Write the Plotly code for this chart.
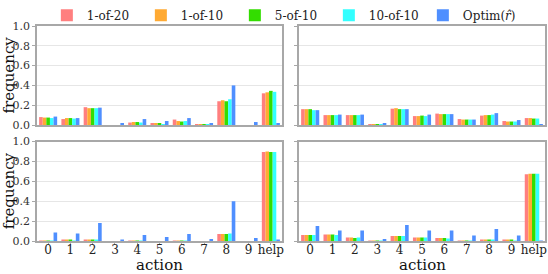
import plotly.graph_objects as go
from plotly.subplots import make_subplots

categories = ["0", "1", "2", "3", "4", "5", "6", "7", "8", "9", "help"]
series_names = ["1-of-20", "1-of-10", "5-of-10", "10-of-10", "Optim(<i>r̂</i>)"]
colors = ["#FF7F7F", "#FFAA33", "#33DD00", "#33FFFF", "#4F8FFF"]

# top-left panel
tl_1of20 = [0.08, 0.06, 0.18, 0.0, 0.025, 0.015, 0.055, 0.005, 0.24, 0.0, 0.32]
tl_1of10 = [0.075, 0.07, 0.17, 0.0, 0.03, 0.015, 0.04, 0.005, 0.25, 0.0, 0.33]
tl_5of10 = [0.075, 0.07, 0.17, 0.0, 0.03, 0.015, 0.035, 0.005, 0.24, 0.0, 0.345]
tl_10of10 = [0.07, 0.065, 0.17, 0.0, 0.025, 0.01, 0.04, 0.005, 0.26, 0.0, 0.335]
tl_optim = [0.085, 0.07, 0.175, 0.015, 0.06, 0.04, 0.07, 0.02, 0.40, 0.03, 0.015]

# top-right panel
tr_1of20 = [0.16, 0.10, 0.10, 0.005, 0.165, 0.09, 0.115, 0.06, 0.095, 0.04, 0.07]
tr_1of10 = [0.16, 0.10, 0.10, 0.005, 0.17, 0.09, 0.11, 0.055, 0.10, 0.035, 0.07]
tr_5of10 = [0.16, 0.10, 0.10, 0.01, 0.16, 0.095, 0.11, 0.055, 0.10, 0.035, 0.065]
tr_10of10 = [0.15, 0.10, 0.10, 0.005, 0.16, 0.09, 0.11, 0.055, 0.105, 0.035, 0.065]
tr_optim = [0.15, 0.105, 0.105, 0.02, 0.16, 0.105, 0.11, 0.055, 0.12, 0.05, 0.005]

# bottom-left panel
bl_1of20 = [0.005, 0.01, 0.015, 0.0, 0.005, 0.0, 0.005, 0.0, 0.07, 0.0, 0.895]
bl_1of10 = [0.005, 0.01, 0.015, 0.0, 0.005, 0.0, 0.005, 0.0, 0.07, 0.0, 0.90]
bl_5of10 = [0.005, 0.01, 0.015, 0.0, 0.005, 0.0, 0.005, 0.0, 0.07, 0.0, 0.895]
bl_10of10 = [0.005, 0.005, 0.015, 0.0, 0.005, 0.0, 0.005, 0.0, 0.075, 0.0, 0.895]
bl_optim = [0.085, 0.075, 0.18, 0.015, 0.06, 0.04, 0.07, 0.02, 0.40, 0.03, 0.015]

# bottom-right panel
br_1of20 = [0.06, 0.065, 0.035, 0.005, 0.05, 0.035, 0.03, 0.005, 0.015, 0.01, 0.67]
br_1of10 = [0.06, 0.065, 0.035, 0.005, 0.05, 0.035, 0.03, 0.005, 0.015, 0.01, 0.675]
br_5of10 = [0.06, 0.065, 0.03, 0.005, 0.05, 0.035, 0.03, 0.005, 0.015, 0.01, 0.675]
br_10of10 = [0.06, 0.06, 0.035, 0.005, 0.05, 0.035, 0.025, 0.005, 0.015, 0.005, 0.675]
br_optim = [0.15, 0.105, 0.105, 0.02, 0.16, 0.105, 0.105, 0.055, 0.12, 0.055, 0.005]

panels = [
    (1, 1, [tl_1of20, tl_1of10, tl_5of10, tl_10of10, tl_optim]),
    (1, 2, [tr_1of20, tr_1of10, tr_5of10, tr_10of10, tr_optim]),
    (2, 1, [bl_1of20, bl_1of10, bl_5of10, bl_10of10, bl_optim]),
    (2, 2, [br_1of20, br_1of10, br_5of10, br_10of10, br_optim]),
]

FONT = "DejaVu Serif"

fig = make_subplots(rows=2, cols=2)
for r, c, series in panels:
    for i, vals in enumerate(series):
        fig.add_trace(
            go.Bar(
                x=categories, y=vals, name=series_names[i],
                marker=dict(color=colors[i], line=dict(width=0)),
                showlegend=(r == 1 and c == 1),
                legendgroup=series_names[i],
            ),
            row=r, col=c,
        )

W = 508.0
H = 215.0
xdom_l = [0.0, 245 / W]
xdom_r = [262 / W, 1.0]
ydom_b = [0.0, 99.5 / H]
ydom_t = [116 / H, 1.0]

axis_common = dict(
    showline=True, linecolor="#A8A8A8", linewidth=1.5, mirror=True,
)
for r, c in [(1, 1), (1, 2), (2, 1), (2, 2)]:
    fig.update_xaxes(
        domain=xdom_l if c == 1 else xdom_r,
        range=[-0.5, 10.5], type="category",
        showgrid=False,
        ticks="outside" if r == 2 else "", ticklen=2, tickcolor="#A8A8A8",
        ticklabelstandoff=-5,
        showticklabels=(r == 2),
        tickfont=dict(family=FONT, size=12, color="#222"),
        row=r, col=c, **axis_common,
    )
    fig.update_yaxes(
        domain=ydom_t if r == 1 else ydom_b,
        range=[0, 1.0], dtick=0.2, tickformat=".1f",
        showgrid=True, gridcolor="#E6E6E6", gridwidth=1,
        zeroline=False,
        ticks="outside", ticklen=3, tickcolor="#A8A8A8",
        showticklabels=(c == 1),
        tickfont=dict(family=FONT, size=11, color="#333"),
        row=r, col=c, **axis_common,
    )

# axis titles as paper annotations
title_font_x = dict(family=FONT, size=15, color="#111")
title_font_y = dict(family=FONT, size=15, color="#111")
for xc in [(xdom_l[0] + xdom_l[1]) / 2, (xdom_r[0] + xdom_r[1]) / 2]:
    fig.add_annotation(text="action", xref="paper", yref="paper", x=xc, y=-24 / H,
                       xanchor="center", yanchor="middle", showarrow=False, font=title_font_x)
for yc in [(ydom_t[0] + ydom_t[1]) / 2, (ydom_b[0] + ydom_b[1]) / 2]:
    fig.add_annotation(text="frequency", xref="paper", yref="paper", x=-28 / W, y=yc,
                       xanchor="center", yanchor="middle", showarrow=False, textangle=-90,
                       font=title_font_y)

fig.update_layout(
    width=548, height=274,
    margin=dict(l=37, r=3, t=26, b=33, autoexpand=False),
    paper_bgcolor="white", plot_bgcolor="white",
    barmode="group", bargap=0.19, bargroupgap=0.0,
    font=dict(family=FONT, size=12, color="#222"),
    legend=dict(
        orientation="h", x=0.482, xanchor="center", y=1.05, yanchor="middle",
        font=dict(family=FONT, size=12, color="#222"),
        entrywidth=49, entrywidthmode="pixels", itemwidth=30,
        bgcolor="rgba(0,0,0,0)", tracegroupgap=0,
    ),
)

fig.write_html("out.html", post_script="document.body.style.margin='0';",
               config={"displayModeBar": False})
